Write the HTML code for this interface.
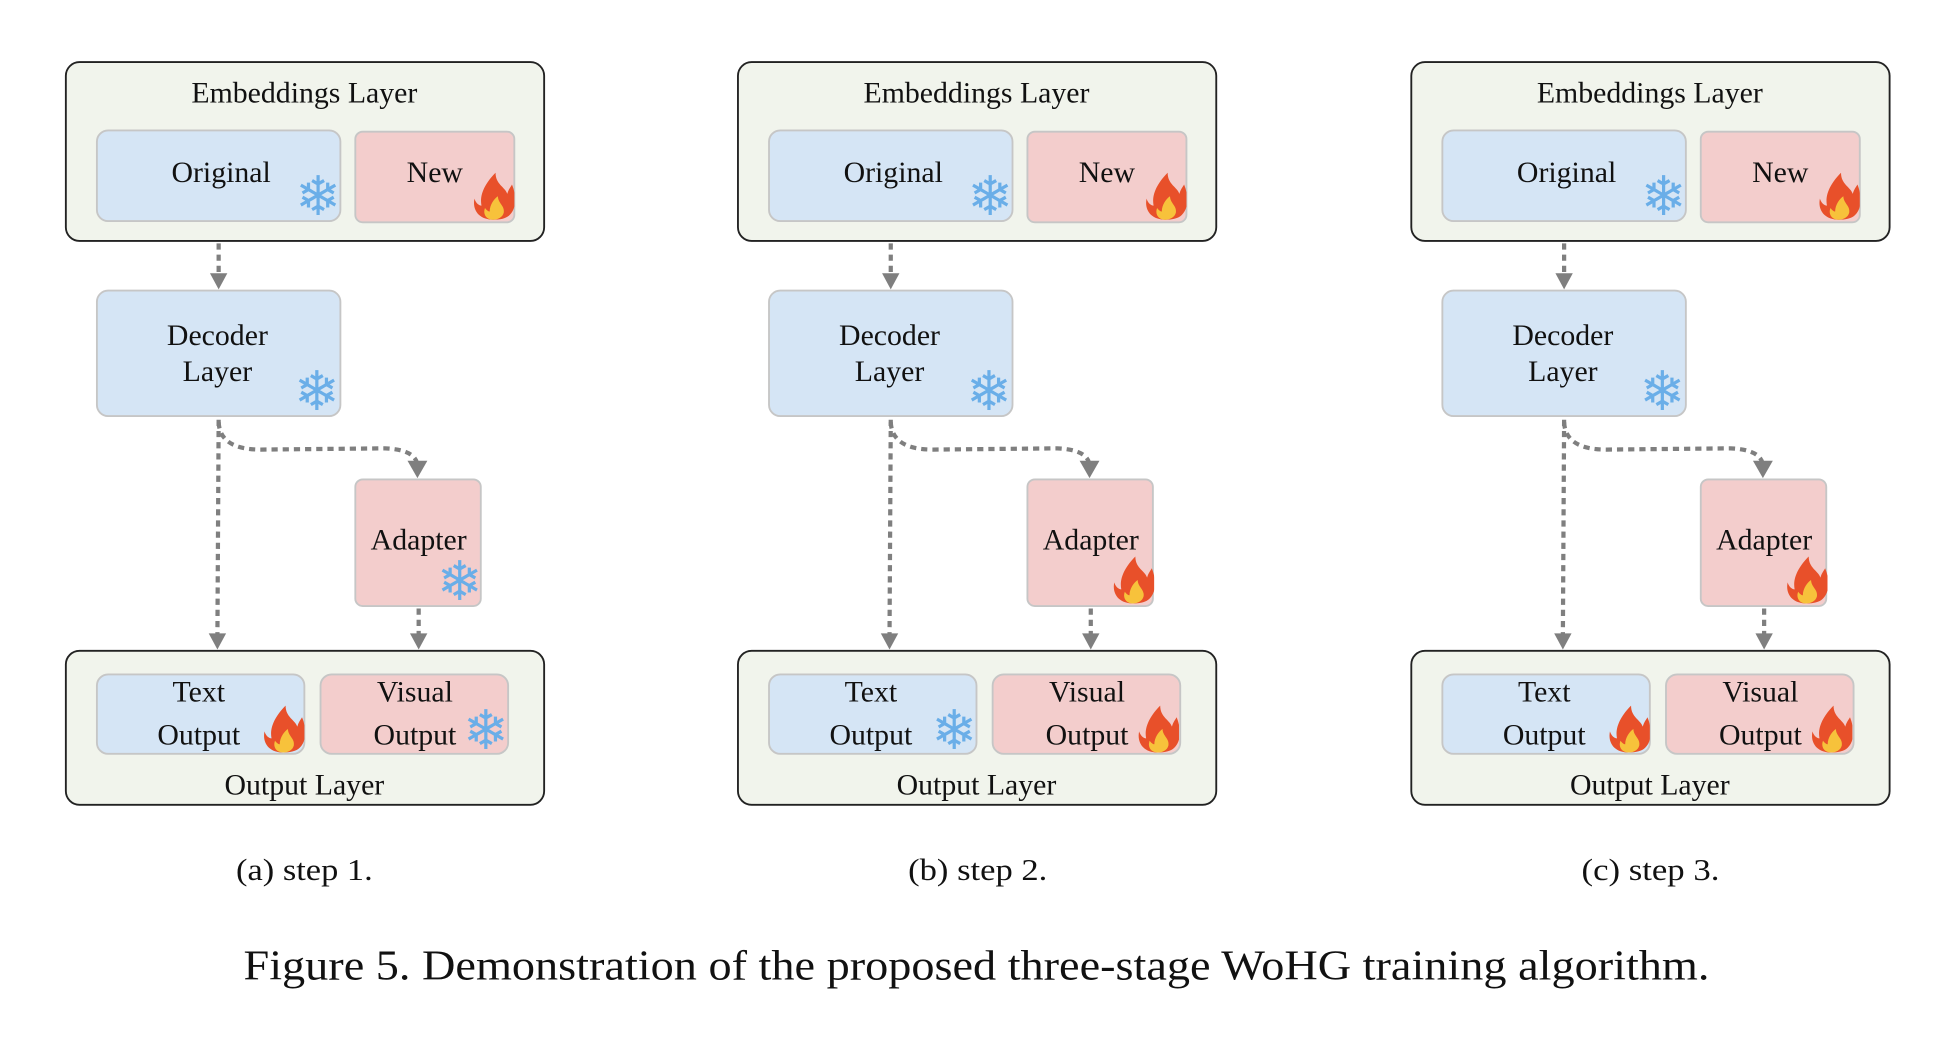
<!DOCTYPE html>
<html><head><meta charset="utf-8"><style>html,body{margin:0;padding:0;background:#fff}svg{display:block}</style></head>
<body>
<svg width="1948" height="1042" viewBox="0 0 1568 839" preserveAspectRatio="none" xmlns="http://www.w3.org/2000/svg" font-family="'Liberation Serif', serif">
<defs>
<symbol id="fire" viewBox="0 0 36 40">
<path d="M18,40 C6,40 0,32 2,22 C4,28 8,28 8,28 C6,18 12,8 20,0 C20,10 28,12 30,18 C31,14 33,12 34,10 C38,20 38,30 32,36 C29,39 24,40 18,40Z" fill="#e8502a"/>
<path d="M18,40 C12,40 9,35 11,30 C13,33 15,33 15,33 C15,27 19,22 22,20 C22,26 28,28 27,34 C26,38 22,40 18,40Z" fill="#f7c23b"/>
</symbol>
<g id="base">
<rect x="53" y="50" width="385" height="144" rx="11" fill="#f1f4ec" stroke="#222" stroke-width="1.5"/>
<rect x="78" y="105" width="196" height="73" rx="9" fill="#d5e5f5" stroke="#c6c6c6" stroke-width="1.5"/>
<rect x="286" y="106" width="128" height="73" rx="6" fill="#f3cdcc" stroke="#c6c6c6" stroke-width="1.5"/>
<rect x="78" y="234" width="196" height="101" rx="9" fill="#d5e5f5" stroke="#c6c6c6" stroke-width="1.5"/>
<rect x="286" y="386" width="101" height="102" rx="6" fill="#f3cdcc" stroke="#c6c6c6" stroke-width="1.5"/>
<rect x="53" y="524" width="385" height="124" rx="11" fill="#f1f4ec" stroke="#222" stroke-width="1.5"/>
<rect x="78" y="543" width="167" height="64" rx="9" fill="#d5e5f5" stroke="#c6c6c6" stroke-width="1.5"/>
<rect x="258" y="543" width="151" height="64" rx="9" fill="#f3cdcc" stroke="#c6c6c6" stroke-width="1.5"/>
<g stroke="#7f7f7f" stroke-width="3.4" fill="none" stroke-dasharray="5 4">
<line x1="176" y1="196" x2="176" y2="222"/>
<line x1="176" y1="338" x2="175" y2="512"/>
<path d="M176,340 Q177,362 210,362 L310,361 Q334,362 336,374"/>
<line x1="337" y1="490" x2="337" y2="512"/>
</g>
<g fill="#7f7f7f">
<polygon points="169,220 183,220 176,233"/>
<polygon points="168,510 182,510 175,523"/>
<polygon points="328,371 344,371 336,385"/>
<polygon points="330,510 344,510 337,523"/>
</g>
<g font-size="24" fill="#111" text-anchor="middle" dominant-baseline="central">
<text x="245" y="75">Embeddings Layer</text>
<text x="178" y="139">Original</text>
<text x="350" y="139">New</text>
<text x="175" y="270">Decoder</text>
<text x="175" y="299">Layer</text>
<text x="337" y="435">Adapter</text>
<text x="160" y="557">Text</text>
<text x="160" y="592">Output</text>
<text x="334" y="557">Visual</text>
<text x="334" y="592">Output</text>
<text x="245" y="632">Output Layer</text>
</g>
</g>
</defs>

<use href="#base"/>
<g font-family="'DejaVu Sans', sans-serif" font-size="44" fill="#6aaee8" text-anchor="middle">
<text x="256" y="173">❄</text>
<text x="255" y="330">❄</text>
<text x="370" y="483">❄</text>
<text x="391" y="603">❄</text>
</g>
<use href="#fire" x="380" y="138" width="34" height="40"/>
<use href="#fire" x="211" y="567" width="34" height="40"/>

<g transform="translate(541,0)">
<use href="#base"/>
<g font-family="'DejaVu Sans', sans-serif" font-size="44" fill="#6aaee8" text-anchor="middle">
<text x="256" y="173">❄</text>
<text x="255" y="330">❄</text>
<text x="227" y="603">❄</text>
</g>
<use href="#fire" x="380" y="138" width="34" height="40"/>
<use href="#fire" x="354" y="447" width="34" height="40"/>
<use href="#fire" x="374" y="567" width="34" height="40"/>
</g>

<g transform="translate(1083,0)">
<use href="#base"/>
<g font-family="'DejaVu Sans', sans-serif" font-size="44" fill="#6aaee8" text-anchor="middle">
<text x="256" y="173">❄</text>
<text x="255" y="330">❄</text>
</g>
<use href="#fire" x="380" y="138" width="34" height="40"/>
<use href="#fire" x="354" y="447" width="34" height="40"/>
<use href="#fire" x="211" y="567" width="34" height="40"/>
<use href="#fire" x="374" y="567" width="34" height="40"/>
</g>

<g font-size="25" fill="#111" dominant-baseline="central">
<text x="190" y="700" textLength="110" lengthAdjust="spacingAndGlyphs">(a) step 1.</text>
<text x="731" y="700" textLength="112" lengthAdjust="spacingAndGlyphs">(b) step 2.</text>
<text x="1273" y="700" textLength="111" lengthAdjust="spacingAndGlyphs">(c) step 3.</text>
</g>
<text x="196" y="778" font-size="34" fill="#111" dominant-baseline="central" textLength="1180" lengthAdjust="spacingAndGlyphs">Figure 5. Demonstration of the proposed three-stage WoHG training algorithm.</text>
</svg>
</body></html>
